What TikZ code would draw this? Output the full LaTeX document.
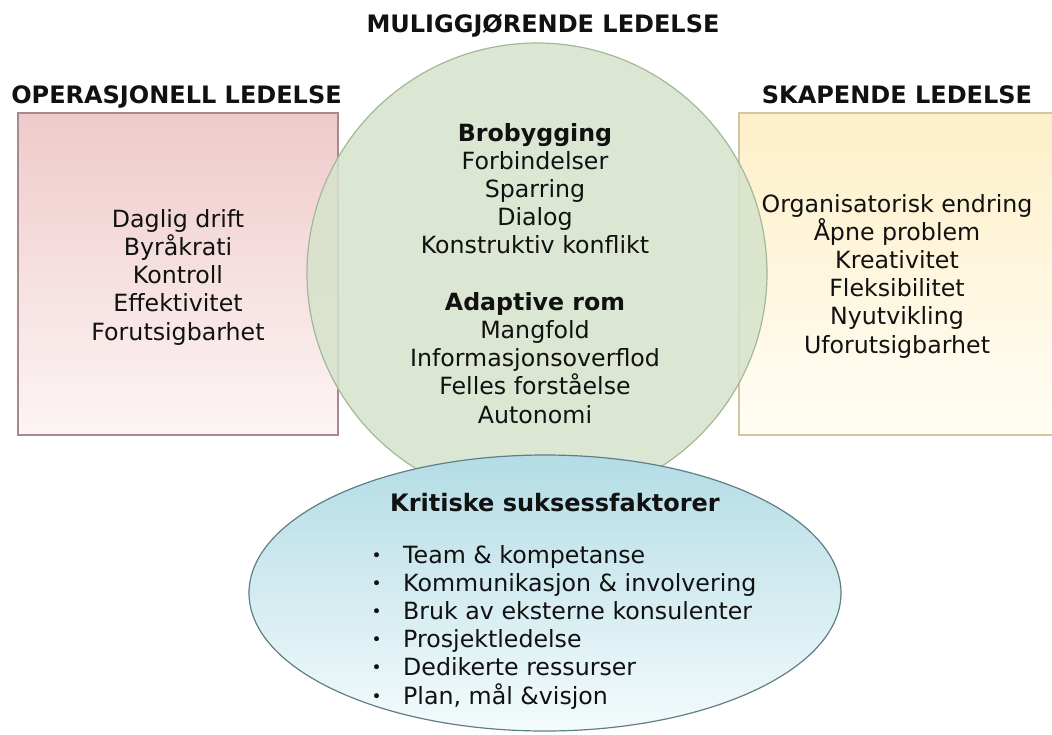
\documentclass[tikz,border=0pt]{standalone}
\usepackage{fontspec}
\setmainfont{DejaVu Sans}
\usetikzlibrary{shapes.geometric}

\definecolor{opertop}{HTML}{EFCACA}
\definecolor{operbot}{HTML}{FDF5F5}
\definecolor{operline}{HTML}{A88A8E}
\definecolor{creatop}{HTML}{FDEFC8}
\definecolor{creabot}{HTML}{FFFDF4}
\definecolor{crealine}{HTML}{D2C6A2}
\definecolor{enablefill}{HTML}{D6E3CB}
\definecolor{enableline}{HTML}{A3B895}
\definecolor{factortop}{HTML}{B3DCE5}
\definecolor{factorbot}{HTML}{F4FBFC}
\definecolor{factorline}{HTML}{5F7F86}
\definecolor{inktext}{HTML}{111111}

\newcommand{\factbullet}{\makebox[33pt][l]{\hspace{1.5pt}\raisebox{2pt}{\fontsize{17}{17}\selectfont •}}}

\tikzset{
  areabox/.style={rectangle, minimum width=320pt, minimum height=322pt, inner sep=0pt, line width=1.2pt},
  areatitle/.style={font=\fontsize{24}{28.2}\selectfont\bfseries, anchor=base, inner sep=0pt},
  itemtext/.style={align=center, anchor=base, inner sep=0pt}
}

\begin{document}
\begin{tikzpicture}[x=1pt, y=-1pt, font=\fontsize{23.7}{28.2}\selectfont, text=inktext]
	\useasboundingbox (0,0) rectangle (1052,734);
	\clip (0,0) rectangle (1052,734);
	% the three areas
	\node (operbox) [areabox, top color=opertop, bottom color=operbot, draw=operline] at (178,274) {};
	\node (creabox) [areabox, minimum width=330pt, top color=creatop, bottom color=creabot, draw=crealine] at (904,274) {};
	\node (enablecircle) [circle, minimum size=460pt, inner sep=0pt, fill=enablefill, fill opacity=0.85, draw=enableline, line width=1.2pt] at (537,273) {};
	\node (factorellipse) [ellipse, minimum width=592pt, minimum height=276pt, inner sep=0pt, top color=factortop, bottom color=factorbot, draw=factorline, line width=1.2pt] at (545,593) {};
	% titles
	\node (enabletitle) [areatitle] at (543,32) {MULIGGJØRENDE LEDELSE};
	\node (opertitle) [areatitle] at (176.5,103) {OPERASJONELL LEDELSE};
	\node (creatitle) [areatitle] at (897,103) {SKAPENDE LEDELSE};
	% contents (base = last line)
	\node (opertext) [itemtext] at (178,340) {Daglig drift\\Byråkrati\\Kontroll\\Effektivitet\\Forutsigbarhet};
	\node (enabletext) [itemtext] at (535,423) {\textbf{Brobygging}\\Forbindelser\\Sparring\\Dialog\\Konstruktiv konflikt\\[28.2pt]\textbf{Adaptive rom}\\Mangfold\\Informasjonsoverflod\\Felles forståelse\\Autonomi};
	\node (creatext) [itemtext] at (897,353) {Organisatorisk endring\\Åpne problem\\Kreativitet\\Fleksibilitet\\Nyutvikling\\Uforutsigbarhet};
	\node (factortitle) [areatitle] at (555,511) {Kritiske suksessfaktorer};
	\node (factorlist) [itemtext, align=left, anchor=base west] at (370,704) {\factbullet Team \& kompetanse\\\factbullet Kommunikasjon \& involvering\\\factbullet Bruk av eksterne konsulenter\\\factbullet Prosjektledelse\\\factbullet Dedikerte ressurser\\\factbullet Plan, mål \&visjon};
\end{tikzpicture}
\end{document}
